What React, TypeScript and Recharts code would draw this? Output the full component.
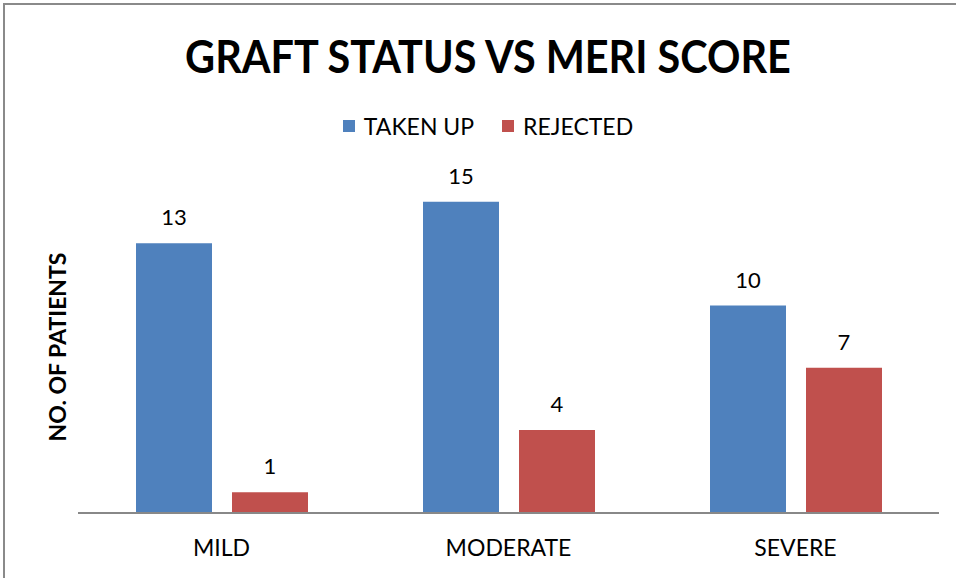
import { Bar, BarChart, LabelList, Legend, XAxis, YAxis } from 'recharts';

const categories = ['MILD', 'MODERATE', 'SEVERE'];
const takenUp = [13, 15, 10];
const rejected = [1, 4, 7];
const seriesNames = ['TAKEN UP', 'REJECTED'];
const seriesColors = ['#4F81BD', '#C0504D'];

const chartData = categories.map((name, i) => ({
  name,
  takenUp: takenUp[i],
  rejected: rejected[i]
}));

const font = 'Lato, "Open Sans", sans-serif';

function LegendBox() {
  return (
    <div style={{ display: 'flex', justifyContent: 'center', gap: 28, fontFamily: font, fontSize: 23, color: '#000' }}>
      {seriesNames.map((n, i) => (
        <div key={n} style={{ display: 'flex', alignItems: 'center', gap: 9 }}>
          <span style={{ width: 12, height: 12, background: seriesColors[i], display: 'inline-block' }} />
          <span>{n}</span>
        </div>
      ))}
    </div>
  );
}

export default function App() {
  return (
    <div style={{ position: 'absolute', left: 0, top: 0, width: 956, height: 578, overflow: 'hidden', background: '#fff' }}>
      <div
        style={{
          position: 'absolute',
          left: 3,
          top: 3,
          width: 1000,
          height: 1000,
          border: '2px solid #8a8a8a'
        }}
      />
      <div
        style={{
          position: 'absolute',
          left: 0,
          top: 28,
          width: 976,
          textAlign: 'center',
          fontFamily: font,
          fontWeight: 700,
          fontSize: 46,
          color: '#000',
          transform: 'scaleX(0.9)'
        }}
      >
        GRAFT STATUS VS MERI SCORE
      </div>
      <BarChart
        width={956}
        height={578}
        data={chartData}
        margin={{ top: 181, right: 17, bottom: 0, left: 38 }}
        barSize={76}
        barGap={20}
        style={{ position: 'absolute', left: 0, top: 0 }}
      >
        <XAxis
          dataKey="name"
          height={65}
          tickLine={false}
          axisLine={{ stroke: '#888', strokeWidth: 2 }}
          tick={{ fill: '#000', fontSize: 23, fontFamily: font }}
          tickMargin={21}
        />
        <YAxis
          domain={[0, 16]}
          width={40}
          tick={false}
          axisLine={false}
          tickLine={false}
          label={{
            value: 'NO. OF PATIENTS',
            angle: -90,
            position: 'center',
            fill: '#000',
            fontSize: 23,
            fontWeight: 700,
            fontFamily: font
          }}
        />
        <Legend
          verticalAlign="middle"
          wrapperStyle={{ top: 112, left: 0, width: 976 }}
          content={() => <LegendBox />}
        />
        <Bar dataKey="takenUp" name={seriesNames[0]} fill={seriesColors[0]} isAnimationActive={false}>
          <LabelList dataKey="takenUp" position="top" offset={18} fill="#000" fontSize={22} fontFamily={font} />
        </Bar>
        <Bar dataKey="rejected" name={seriesNames[1]} fill={seriesColors[1]} isAnimationActive={false}>
          <LabelList dataKey="rejected" position="top" offset={18} fill="#000" fontSize={22} fontFamily={font} />
        </Bar>
      </BarChart>
    </div>
  );
}
